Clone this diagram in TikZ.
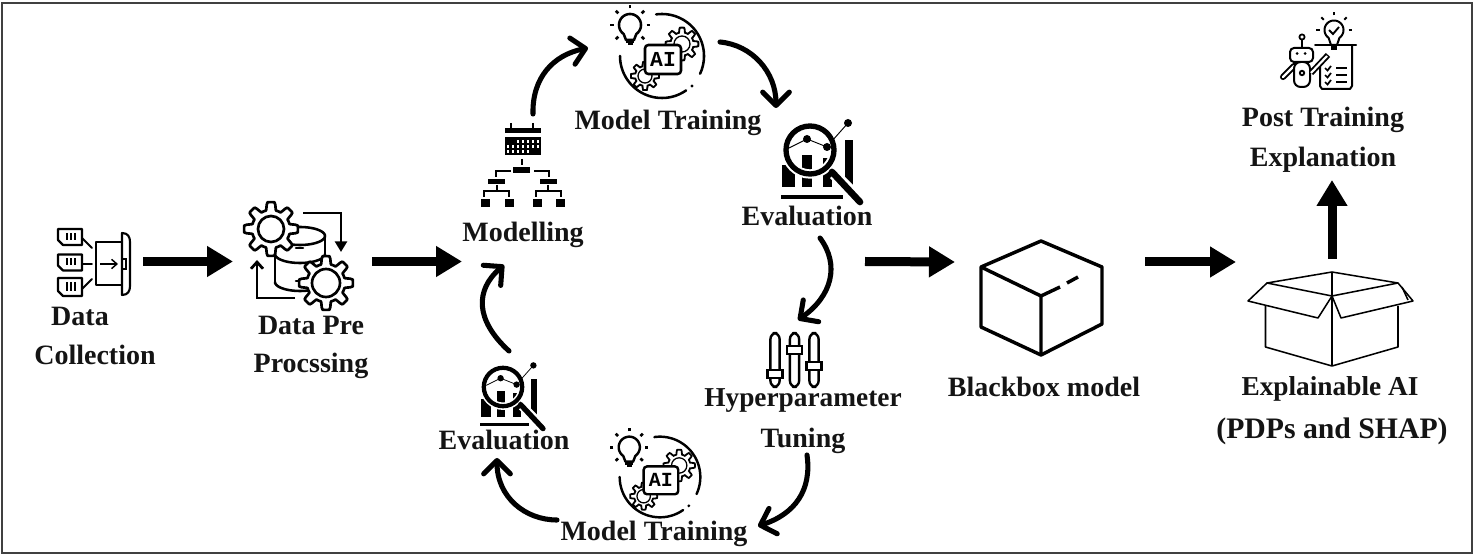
\documentclass[tikz,border=0pt]{standalone}
\usepackage{fontspec}
\setmainfont{Liberation Serif}
\newfontfamily\aifont{Liberation Mono}
\usetikzlibrary{arrows.meta,calc}
\tikzset{
  lab/.style={font=\fontsize{21pt}{24pt}\selectfont\bfseries,inner sep=0pt,text=black!92},
  labn/.style={lab,font=\fontsize{20.5pt}{24pt}\selectfont\bfseries},
  labw/.style={lab,font=\fontsize{22.3pt}{24pt}\selectfont\bfseries},
  slot/.style={inner sep=0pt,outer sep=0pt,minimum height=2pt,minimum width=#1},
  blockarrow/.style={line width=6.75pt,-{Triangle[length=19.5pt,width=22pt]}},
  curvearrow/.style={line width=3.8pt,line cap=round,-{Straight Barb[length=10pt,width=20pt,line width=3.8pt,round]}},
  ic/.style={line width=1.9pt,line cap=round,line join=round},
}
\newcommand\arcp[5]{plot[domain=#4:#5,samples=48,variable=\t] ({#1+#3*cos(\t)},{#2+#3*sin(\t)})}
% gear outline: cx, cy, R, teeth
\newcommand\gearp[4]{plot[domain=0:360,samples=145,variable=\t,smooth] ({#1+#3*(1+0.17*max(-1,min(1,2.5*cos(#4*\t))))*cos(\t)},{#2+#3*(1+0.17*max(-1,min(1,2.5*cos(#4*\t))))*sin(\t)}) -- cycle}
% evaluation icon: x, y, scale
\newcommand\evalicon[3]{%
\begin{scope}[shift={(#1,#2)},scale=#3]
  \fill (-28,15) rectangle (-15,37);
  \fill (-8,5) rectangle (2,37);
  \fill (13,8) rectangle (22,37);
  \fill (35,-10) rectangle (43,37);
  \draw[white,line width=#3*7pt] (0,0) circle (24);
  \fill (-29,45.5) rectangle (33,49);
  \draw[white,line width=#3*8.5pt] (24,24) -- (40,40);
  \draw[line width=#3*4pt] (0,0) circle (24);
  \draw[line width=#3*5pt,line cap=round] (22,22) -- (50,52);
  \draw[line width=#3*.7pt] (-21,-2) -- (-3,-11) -- (17,-3) (22,-9) -- (38,-27);
  \fill (-3,-11) circle (4) (17,-3) circle (4) (38,-27) circle (4);
\end{scope}}
% AI icon: x, y, scale, font size
\newcommand\aiicon[4]{%
\begin{scope}[shift={(#1,#2)},scale=#3]
  \draw[line width=#3*1.9pt,line cap=round] \arcp{0}{0}{42}{-98}{25};
  \draw[line width=#3*1.9pt,line cap=round] \arcp{0}{0}{42}{55}{180};
  \fill (30,30) circle (1.6);
  \draw[line width=#3*1.4pt,fill=white] \gearp{20}{-12}{14}{8};
  \draw[line width=#3*1pt] (20,-12) circle (8);
  \draw[line width=#3*1.4pt,fill=white] \gearp{-17}{20}{12}{8};
  \draw[line width=#3*1pt] (-17,20) circle (7);
  \draw[line width=#3*1.9pt,fill=white,rounded corners=2.5pt] (-17,-11) rectangle (19,18);
  \node[inner sep=0pt,font=\aifont\bfseries\fontsize{#4}{#4}\selectfont] at (1,3.5) {AI};
  \begin{scope}[shift={(-32,-31)}]
    \draw[line width=#3*1.9pt,line join=round] \arcp{0}{0}{11}{125}{415} -- (4,15) -- (-4,15) -- cycle;
    \fill (-4,14) rectangle (4,18.5);
    \fill (-2.5,18.5) rectangle (2.5,20.5);
    \foreach \a in {-135,-90,-45,0,45,135,180}
      \draw[line width=#3*2pt] (\a:16.5) -- (\a:20);
  \end{scope}
\end{scope}}
\begin{document}
\begin{tikzpicture}[x=.75pt,y=-.75pt]
\useasboundingbox (0,0) rectangle (1475,559);
\fill[white] (0,0) rectangle (1475,559);
\draw[black!75,line width=1.1pt] (2,3) rectangle (1472,553);

% ---------- labels
\node[lab] (l1a) at (80,316) {Data};
\node[lab] (l1b) at (95,355) {Collection};
\node[lab] (l2a) at (311,325) {Data Pre};
\node[lab] (l2b) at (311,366) {Procssing};
\node[lab] (l3) at (523,235) {Modelling};
\node[lab] (l4) at (668,123) {Model Training};
\node[lab] (l5) at (807,216) {Evaluation};
\node[labn] (l6a) at (803,401) {Hyperparameter};
\node[lab] (l6b) at (803,441) {Tuning};
\node[lab] (l7) at (654,534) {Model Training};
\node[lab] (l8) at (504,440) {Evaluation};
\node[lab] (l9) at (1044,387) {Blackbox model};
\node[labn] (l10a) at (1330,389) {Explainable AI};
\node[labw] (l10b) at (1332,431) {(PDPs and SHAP)};
\node[lab] (l11a) at (1323,120) {Post Training};
\node[lab] (l11b) at (1323,160) {Explanation};

% ---------- connector anchors (invisible)
\node[slot=83pt*.75] (dc) at (101.5,261.5) {};
\node[slot=139pt*.75] (pre) at (302.5,261.5) {};
\node[slot=403pt*.75] (loop) at (663.5,261.5) {};
\node[slot=190pt*.75] (bb) at (1050,262) {};
\coordinate (xai) at (1332,259);
\coordinate (post) at (1332,180);
\coordinate (xaiin) at (1236,262);
\draw[blockarrow] (dc.east) -- (pre.west);
\draw[blockarrow] (pre.east) -- (loop.west);
\draw[blockarrow] (loop.east) -- (bb.west);
\draw[blockarrow] (bb.east) -- (xaiin);
\draw[blockarrow] (xai) -- (post);

% ---------- curved arrows
\coordinate (c1a) at (533,114); \coordinate (c1b) at (588,48);
\coordinate (c2a) at (720,42);  \coordinate (c2b) at (776,108);
\coordinate (c3a) at (820,238); \coordinate (c3b) at (798,320);
\coordinate (c4a) at (807,455); \coordinate (c4b) at (758,526);
\coordinate (c5a) at (557,520); \coordinate (c5b) at (497,458);
\coordinate (c6a) at (509,351); \coordinate (c6b) at (504,265);
\draw[curvearrow] (c1a) .. controls (532,78) and (553,55) .. (c1b);
\draw[curvearrow] (c2a) .. controls (752,45) and (776,72) .. (c2b);
\draw[curvearrow] (c3a) .. controls (840,265) and (832,296) .. (c3b);
\draw[curvearrow] (c4a) .. controls (812,490) and (795,514) .. (c4b);
\draw[curvearrow] (c5a) .. controls (525,520) and (497,497) .. (c5b);
\draw[curvearrow] (c6a) .. controls (475,320) and (475,290) .. (c6b);

% ---------- data collection icon
\foreach \yy/\h in {229/16,254.5/16,278/18}{
  \draw[ic,line width=1.6pt] (58,\yy) -- (82,\yy) -- (82,\yy+\h) -- (63,\yy+\h) -- (58,\yy+\h-5) -- cycle;
  \foreach \xx in {67,71,75} \draw[line width=1.3pt] (\xx,\yy+4) -- (\xx,\yy+\h-5);
}
\draw[ic,line width=1.4pt] (82,238) -- (92,248) (82,264) -- (92,264) (82,289) -- (92,279);
\draw[ic,line width=1.6pt] (96,242) rectangle (122,285);
\draw[ic,line width=1.6pt] (122,233) .. controls (128,233) and (130,237) .. (130,242) -- (130,286) .. controls (130,291) and (128,295) .. (122,295) -- cycle;
\draw[line width=1.2pt] (123,259) -- (126,259) -- (126,269) -- (123,269);
\draw[line width=1.1pt,-{Straight Barb[length=4pt,width=7pt]}] (100,264) -- (118,264);

% ---------- data pre-processing icon
\draw[ic] (275,236) -- (275,282) (325,236) -- (325,282);
\draw[ic] plot[domain=180:360,samples=30,variable=\t] ({300+25*cos(\t)},{236+9*sin(\t)});
\draw[ic] plot[domain=0:180,samples=30,variable=\t] ({300+25*cos(\t)},{236+9*sin(\t)});
\draw[ic] plot[domain=0:180,samples=30,variable=\t] ({300+25*cos(\t)},{254+9*sin(\t)});
\draw[ic] plot[domain=0:180,samples=30,variable=\t] ({300+25*cos(\t)},{282+9*sin(\t)});
\draw[ic] (296,248) -- (303,248) (296,263) -- (303,263) (296,281) -- (303,281);
\draw[ic,fill=white,line width=2pt] \gearp{271}{229}{23}{8};
\draw[ic,line width=2pt] (271,229) circle (13);
\draw[ic,fill=white,line width=2pt] \gearp{326}{283}{23}{8};
\draw[ic,line width=2pt] (326,283) circle (14);
\coordinate (p1a) at (303,213); \coordinate (p1b) at (341,252);
\coordinate (p2a) at (295,298); \coordinate (p2b) at (257,260);
\draw[line width=2.1pt,-{Triangle[length=8pt,width=9pt]}] (p1a) -| (p1b);
\draw[line width=2.1pt,-{Straight Barb[length=5pt,width=9pt]}] (p2a) -| (p2b);

% ---------- modelling icon
\draw[line width=1.9pt] (511,123) -- (511,130) (533,123) -- (533,130);
\fill (504.5,128) rectangle (541,133);
\fill (504.5,137) rectangle (541,155);
\foreach \xx in {518,523,528,533,538} \fill[white] (\xx-1.2,140.5) rectangle (\xx+1.2,143);
\foreach \xx in {508,513,518,523,528,533,538} \fill[white] (\xx-1.2,145.5) rectangle (\xx+1.2,148);
\foreach \xx in {508,513,518,523,528} \fill[white] (\xx-1.2,150.5) rectangle (\xx+1.2,153);
\draw[line width=1.9pt] (522,159) -- (522,165);
\fill (513,167.5) rectangle (530,173.5);
\draw[line width=1.7pt] (511,171) -- (496,171) -- (496,177) (534,171) -- (549,171) -- (549,177);
\fill (488,179) rectangle (505,184.5);
\fill (540,179) rectangle (557,184.5);
\draw[line width=1.3pt] (497,185) -- (497,191) (484,197) -- (484,191) -- (509,191) -- (509,197);
\draw[line width=1.3pt] (548,185) -- (548,191) (536,197) -- (536,191) -- (561,191) -- (561,197);
\foreach \xx in {481,505,533,556} \fill (\xx,199.5) rectangle (\xx+8.5,207.5);

% ---------- AI, evaluation icons
\aiicon{662}{56}{1}{16pt}
\aiicon{660}{477}{.96}{15pt}
\evalicon{810}{150}{1}
\evalicon{503}{387}{.8}

% ---------- sliders
\foreach \xx/\hy in {775/374,794.5/350,814/366}{
  \draw[ic,line width=1.8pt,rounded corners=4.6pt] (\xx-4.6,333) rectangle (\xx+4.6,387);
  \draw[line width=1.8pt,fill=white] (\xx-7.5,\hy-4) rectangle (\xx+7.5,\hy+4);
}

% ---------- black box
\coordinate (bT) at (1041,241); \coordinate (bL) at (981,267);
\coordinate (bR) at (1102,267); \coordinate (bC) at (1041,296);
\coordinate (bB) at (1041,355); \coordinate (bLL) at (981,327);
\coordinate (bRR) at (1102,324);
\draw[line width=2.6pt,line join=round] (bT) -- (bR) -- (bRR) -- (bB) -- (bLL) -- (bL) -- cycle;
\draw[line width=2.6pt,line join=round] (bL) -- (bC) -- (bB);
\draw[line width=2.6pt] (bC) -- (1060,287) (1067,283) -- (1078,277);

% ---------- open box
\begin{scope}[line width=1.15pt,line join=round]
\draw (1265.5,306) -- (1265.5,347) -- (1332,366) -- (1398,347) -- (1398,306);
\draw (1332,272) -- (1332,366);
\draw (1332,272) -- (1267,283) -- (1332,296) -- (1398,283) -- cycle;
\draw (1267,283) -- (1248,301) -- (1318,318) -- (1332,296) -- (1341,318) -- (1413,301) -- (1398,283);
\draw (1402,287) -- (1408,300);
\end{scope}

% ---------- post training icon
\draw[ic,line width=1.5pt] \arcp{1334}{30}{9.5}{125}{415} -- (1337,45) -- (1331,45) -- cycle;
\fill (1331,45) rectangle (1337,50);
\draw[line width=1.4pt] (1329,30) -- (1333,34) -- (1339,27);
\foreach \a in {-135,-90,-45,0,180}
  \draw[line width=1.4pt] ($(1334,30)+(\a:14.5)$) -- ($(1334,30)+(\a:18)$);
\draw[ic,line width=1.5pt] (1315,45) -- (1356,45);
\draw[ic,line width=1.5pt] (1352,45) -- (1352,86) -- (1350,89) -- (1322,89) -- (1320,86) -- (1320,66);
\foreach \yy in {68,75,82}{
  \draw[line width=1.3pt] (1325,\yy) -- (1327.5,\yy+2.5) -- (1331,\yy-2);
  \draw[line width=1.3pt] (1336,\yy) -- (1347,\yy);
}
\draw[line width=4.6pt,line cap=round] (1294,66) -- (1283,77);
\draw[white,line width=1.8pt,line cap=round] (1294,66) -- (1283,77);
\draw[line width=1.5pt,rounded corners=5pt,fill=white] (1294,62) -- (1294,87) -- (1310,87) -- (1310,62) -- cycle;
\draw[line width=1.5pt,rounded corners=3pt,fill=white] (1290,48) rectangle (1313,62);
\fill (1297,53.5) circle (1.5) (1305,53.5) circle (1.5);
\draw[line width=1.4pt] (1302,73) circle (2.2);
\draw[line width=1.5pt] (1302,40) -- (1302,48);
\draw[line width=1.3pt] (1302,37) circle (2.6);
\draw[line width=4.4pt] (1311,73) -- (1328,55);
\draw[white,line width=1.6pt] (1311,73) -- (1327,56);
\end{tikzpicture}
\end{document}
